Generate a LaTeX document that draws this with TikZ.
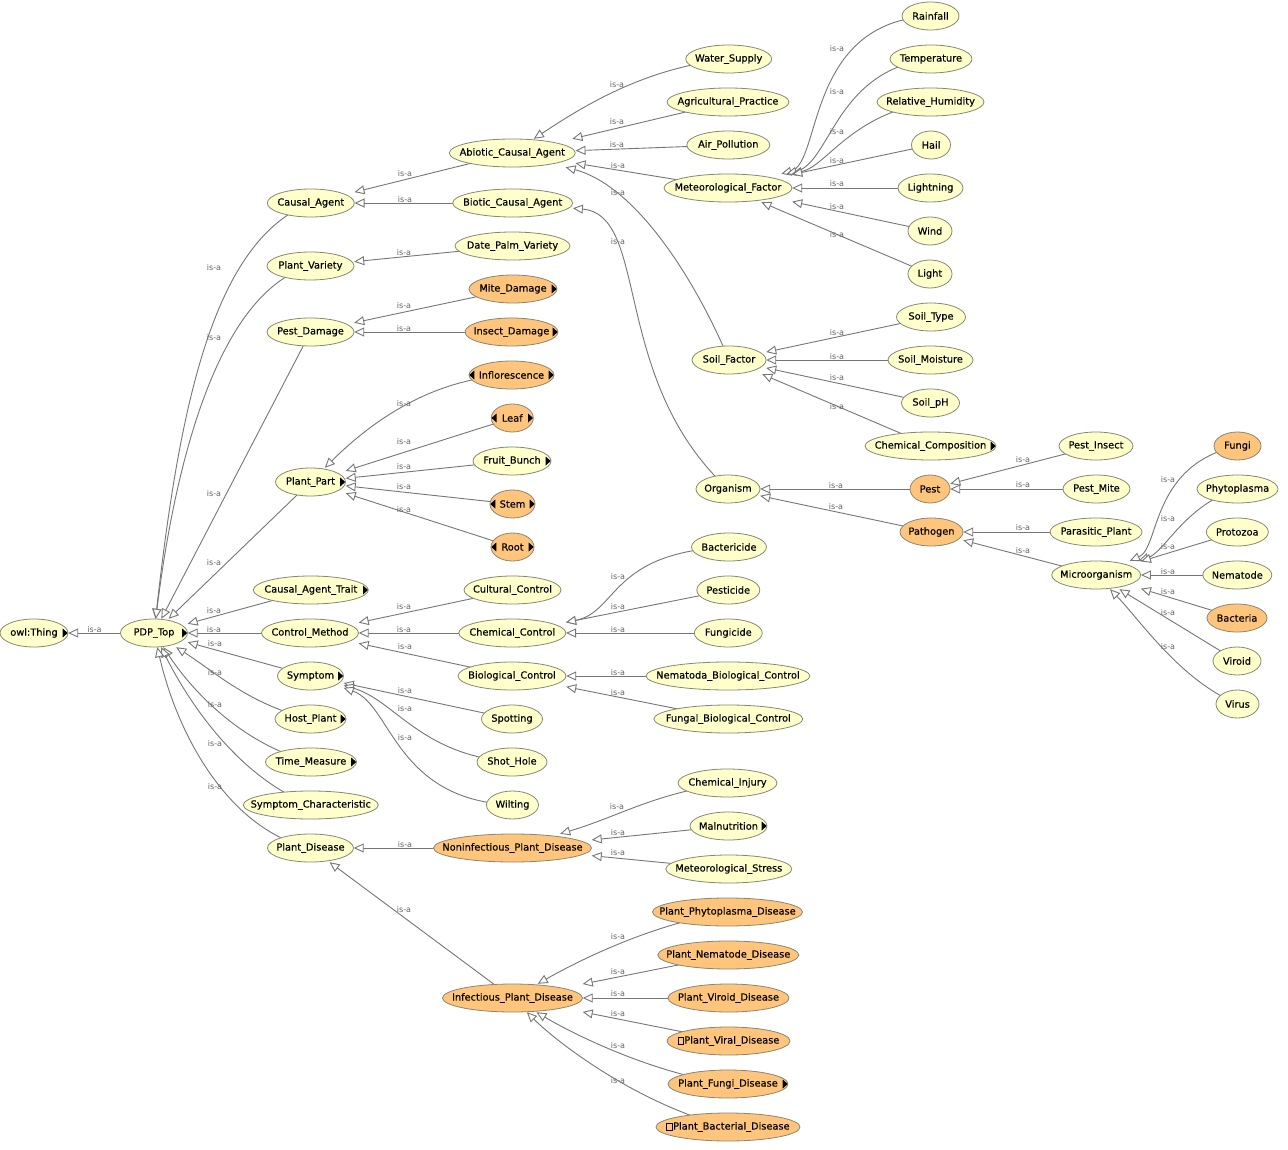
\documentclass[tikz,border=0pt]{standalone}
\usepackage{fontspec}
\setmainfont{DejaVu Sans}
\newfontfamily\clsfont{DejaVu Sans}[FakeBold=0.35]
\usetikzlibrary{arrows.meta}

\definecolor{clsyellow}{RGB}{255,255,204}
\definecolor{clsorange}{RGB}{255,197,125}
\definecolor{clsborder}{RGB}{135,135,115}
\definecolor{edgegray}{RGB}{118,118,118}
\definecolor{labelgray}{RGB}{100,100,100}

\pgfdeclarelayer{bg}
\pgfdeclarelayer{edges}
\pgfdeclarelayer{shapes}
\pgfsetlayers{bg,edges,shapes,main}

\tikzset{
  clsshape/.style={draw=clsborder, line width=0.8pt},
  clsbox/.style={rectangle, inner sep=0pt, minimum height=28pt, text=black,
                 font=\clsfont\fontsize{9.8}{11}\selectfont},
  isaedge/.style={draw=edgegray, line width=0.9pt,
                  -{Triangle[length=10pt,width=9pt,fill=white]}},
  isa/.style={inner sep=0pt, text=labelgray, font=\fontsize{8}{9}\selectfont},
  expander/.style={fill=black},
}

% class node: name, x, y, width, fill colour, label
\newcommand\classnode[6]{%
  \begin{pgfonlayer}{shapes}
    \filldraw[clsshape, fill=#5] (#2,#3) ellipse [x radius={#4*0.5pt}, y radius=14pt];
  \end{pgfonlayer}
  \node[clsbox, minimum width={#4*1pt}] (#1) at (#2,#3) {#6};
}
% expand markers at the right / left end of a class
\newcommand\expandR[1]{\fill[expander] ([xshift=-5.5pt,yshift=4.5pt]#1.east) -- ([xshift=-0.5pt]#1.east) -- ([xshift=-5.5pt,yshift=-4.5pt]#1.east) -- cycle;}
\newcommand\expandL[1]{\fill[expander] ([xshift=5.5pt,yshift=4.5pt]#1.west) -- ([xshift=0.5pt]#1.west) -- ([xshift=5.5pt,yshift=-4.5pt]#1.west) -- cycle;}
% placeholder glyph box
\newcommand\blankglyph{{\setlength\fboxsep{0pt}\setlength\fboxrule{0.6pt}\fbox{\rule{0pt}{6pt}\hspace{5pt}}}\kern0.5pt}

\begin{document}
\begin{tikzpicture}[x=1pt,y=-1pt]
\useasboundingbox (0,0) rectangle (1288,1150);
\begin{pgfonlayer}{bg}
  \fill[white] (0,0) rectangle (1288,1150);
\end{pgfonlayer}

% ---------- classes ----------
\classnode{oThing}{34}{633}{68}{clsyellow}{owl:Thing}
\classnode{PDP}{154}{633}{67}{clsyellow}{PDP\_Top}

\classnode{CA}{310.8}{203}{87}{clsyellow}{Causal\_Agent}
\classnode{PV}{310.5}{266}{87}{clsyellow}{Plant\_Variety}
\classnode{PD}{310.5}{332}{87}{clsyellow}{Pest\_Damage}
\classnode{PP}{310.5}{482}{70}{clsyellow}{Plant\_Part}
\classnode{CAT}{310.8}{590}{115}{clsyellow}{Causal\_Agent\_Trait}
\classnode{CM}{310}{633}{97}{clsyellow}{Control\_Method}
\classnode{Sym}{310.5}{676}{66}{clsyellow}{Symptom}
\classnode{HP}{310.5}{719}{71}{clsyellow}{Host\_Plant}
\classnode{TM}{311}{762}{91}{clsyellow}{Time\_Measure}
\classnode{SC}{310.8}{805}{135}{clsyellow}{Symptom\_Characteristic}
\classnode{PDis}{310.5}{848}{86}{clsyellow}{Plant\_Disease}

\classnode{Abiotic}{512.3}{153}{126}{clsyellow}{Abiotic\_Causal\_Agent}
\classnode{Biotic}{512.7}{203}{120}{clsyellow}{Biotic\_Causal\_Agent}
\classnode{DatePalm}{512.5}{246}{115}{clsyellow}{Date\_Palm\_Variety}
\classnode{Mite}{513}{289}{88}{clsorange}{Mite\_Damage}
\classnode{Insect}{511.5}{332}{93}{clsorange}{Insect\_Damage}
\classnode{Infl}{511.5}{375}{85}{clsorange}{Inflorescence}
\classnode{Leaf}{512.3}{418}{42}{clsorange}{Leaf}
\classnode{Fruit}{512}{461}{78}{clsyellow}{Fruit\_Bunch}
\classnode{Stem}{512.5}{504}{45}{clsorange}{Stem}
\classnode{Root}{512.5}{547}{43}{clsorange}{Root}
\classnode{Cultural}{512.5}{590}{97}{clsyellow}{Cultural\_Control}
\classnode{ChemCtrl}{512.3}{633}{107}{clsyellow}{Chemical\_Control}
\classnode{BioCtrl}{512}{676}{108}{clsyellow}{Biological\_Control}
\classnode{Spotting}{512}{719}{61}{clsyellow}{Spotting}
\classnode{ShotHole}{512}{762}{70}{clsyellow}{Shot\_Hole}
\classnode{Wilting}{512.5}{805}{52}{clsyellow}{Wilting}
\classnode{Noninf}{512.5}{848}{158}{clsorange}{Noninfectious\_Plant\_Disease}
\classnode{Infect}{512.5}{998}{140}{clsorange}{Infectious\_Plant\_Disease}

\classnode{Water}{728.7}{59}{86}{clsyellow}{Water\_Supply}
\classnode{Agri}{728}{102}{122}{clsyellow}{Agricultural\_Practice}
\classnode{Air}{728.3}{145}{83}{clsyellow}{Air\_Pollution}
\classnode{Met}{728}{188}{128}{clsyellow}{Meteorological\_Factor}
\classnode{SoilF}{729}{360}{74}{clsyellow}{Soil\_Factor}
\classnode{Org}{728}{489}{64}{clsyellow}{Organism}
\classnode{Bactericide}{729}{547}{75}{clsyellow}{Bactericide}
\classnode{Pesticide}{728.3}{590}{63}{clsyellow}{Pesticide}
\classnode{Fungicide}{728.3}{633}{68}{clsyellow}{Fungicide}
\classnode{Nematoda}{728}{676}{164}{clsyellow}{Nematoda\_Biological\_Control}
\classnode{Fungal}{728.3}{719}{149}{clsyellow}{Fungal\_Biological\_Control}
\classnode{ChemInj}{727.5}{783}{99}{clsyellow}{Chemical\_Injury}
\classnode{Maln}{728.5}{826}{77}{clsyellow}{Malnutrition}
\classnode{MetStress}{728.8}{869}{126}{clsyellow}{Meteorological\_Stress}
\classnode{PhytoD}{727.5}{912}{150}{clsorange}{Plant\_Phytoplasma\_Disease}
\classnode{NemD}{728.3}{955}{141}{clsorange}{Plant\_Nematode\_Disease}
\classnode{ViroidD}{728.5}{998}{121}{clsorange}{Plant\_Viroid\_Disease}
\classnode{ViralD}{728.5}{1041}{123}{clsorange}{\blankglyph Plant\_Viral\_Disease}
\classnode{FungiD}{728}{1084}{120}{clsorange}{Plant\_Fungi\_Disease}
\classnode{BactD}{728}{1127}{144}{clsorange}{\blankglyph Plant\_Bacterial\_Disease}

\classnode{Rainfall}{930.5}{16}{57}{clsyellow}{Rainfall}
\classnode{Temp}{931}{59}{82}{clsyellow}{Temperature}
\classnode{RH}{930.5}{102}{107}{clsyellow}{Relative\_Humidity}
\classnode{Hail}{931}{145}{39}{clsyellow}{Hail}
\classnode{Lightning}{930.5}{188}{65}{clsyellow}{Lightning}
\classnode{Wind}{930}{231}{44}{clsyellow}{Wind}
\classnode{Light}{930}{274}{44}{clsyellow}{Light}
\classnode{SoilType}{931}{317}{69}{clsyellow}{Soil\_Type}
\classnode{Moist}{930.5}{360}{85}{clsyellow}{Soil\_Moisture}
\classnode{SoilpH}{930.5}{403}{58}{clsyellow}{Soil\_pH}
\classnode{ChemComp}{930.5}{446}{131}{clsyellow}{Chemical\_Composition}
\classnode{Pest}{930}{489}{40}{clsorange}{Pest}
\classnode{Pathogen}{931.5}{532}{63}{clsorange}{Pathogen}

\classnode{PestInsect}{1096}{446}{74}{clsyellow}{Pest\_Insect}
\classnode{PestMite}{1096.5}{489}{67}{clsyellow}{Pest\_Mite}
\classnode{Parasitic}{1096}{532}{92}{clsyellow}{Parasitic\_Plant}
\classnode{Micro}{1096.2}{575}{89}{clsyellow}{Microorganism}

\classnode{Fungi}{1237.5}{446}{47}{clsorange}{Fungi}
\classnode{Phytoplasma}{1237.5}{489}{81}{clsyellow}{Phytoplasma}
\classnode{Protozoa}{1237.3}{532}{62}{clsyellow}{Protozoa}
\classnode{Nematode}{1237.3}{575}{69}{clsyellow}{Nematode}
\classnode{Bacteria}{1237}{618}{60}{clsorange}{Bacteria}
\classnode{Viroid}{1237}{661}{48}{clsyellow}{Viroid}
\classnode{Virus}{1237.5}{704}{43}{clsyellow}{Virus}

% ---------- expand markers ----------
\foreach \n in {oThing,PDP,Mite,Insect,Infl,Leaf,Fruit,Stem,Root,PP,ChemComp,CAT,Sym,HP,TM,Maln,FungiD}
  {\expandR{\n}}
\foreach \n in {Infl,Leaf,Stem,Root}
  {\expandL{\n}}

% ---------- is-a connectors ----------
\begin{pgfonlayer}{edges}
\draw[isaedge] (PDP.center) -- (oThing);

\draw[isaedge] (CA.center) .. controls (215,240) and (180,400) .. (PDP);
\draw[isaedge] (PV.center) .. controls (225,290) and (178,440) .. (PDP);
\draw[isaedge] (PD.center) -- (PDP);
\draw[isaedge] (PP.center) -- (PDP);
\draw[isaedge] (CAT.center) -- (PDP);
\draw[isaedge] (CM.center) -- (PDP);
\draw[isaedge] (Sym.center) -- (PDP);
\draw[isaedge] (HP.center) .. controls (250,705) and (215,672) .. (PDP);
\draw[isaedge] (TM.center) .. controls (245,745) and (195,695) .. (PDP);
\draw[isaedge] (SC.center) .. controls (240,778) and (190,705) .. (PDP);
\draw[isaedge] (PDis.center) .. controls (235,832) and (180,745) .. (PDP);

\draw[isaedge] (Abiotic.center) -- (CA);
\draw[isaedge] (Biotic.center) -- (CA);
\draw[isaedge] (DatePalm.center) -- (PV);
\draw[isaedge] (Mite.center) -- (PD);
\draw[isaedge] (Insect.center) -- (PD);
\draw[isaedge] (Infl.center) .. controls (435,378) and (375,418) .. (PP);
\draw[isaedge] (Leaf.center) -- (PP);
\draw[isaedge] (Fruit.center) -- (PP);
\draw[isaedge] (Stem.center) -- (PP);
\draw[isaedge] (Root.center) -- (PP);
\draw[isaedge] (Cultural.center) -- (CM);
\draw[isaedge] (ChemCtrl.center) -- (CM);
\draw[isaedge] (BioCtrl.center) -- (CM);
\draw[isaedge] (Spotting.center) -- (Sym);
\draw[isaedge] (ShotHole.center) .. controls (420,755) and (395,700) .. (Sym);
\draw[isaedge] (Wilting.center) .. controls (395,800) and (392,705) .. (Sym);
\draw[isaedge] (Noninf.center) -- (PDis);
\draw[isaedge] (Infect.center) -- (PDis);

\draw[isaedge] (Water.center) .. controls (645,68) and (585,105) .. (Abiotic);
\draw[isaedge] (Agri.center) -- (Abiotic);
\draw[isaedge] (Air.center) -- (Abiotic);
\draw[isaedge] (Met.center) -- (Abiotic);
\draw[isaedge] (SoilF.center) .. controls (700,290) and (640,187) .. (Abiotic);
\draw[isaedge] (Org.center) .. controls (610,380) and (650,215) .. (Biotic);

\draw[isaedge] (Bactericide.center) .. controls (610,552) and (618,612) .. (ChemCtrl);
\draw[isaedge] (Pesticide.center) -- (ChemCtrl);
\draw[isaedge] (Fungicide.center) -- (ChemCtrl);
\draw[isaedge] (Nematoda.center) -- (BioCtrl);
\draw[isaedge] (Fungal.center) -- (BioCtrl);
\draw[isaedge] (ChemInj.center) .. controls (650,795) and (620,816) .. (Noninf);
\draw[isaedge] (Maln.center) -- (Noninf);
\draw[isaedge] (MetStress.center) -- (Noninf);
\draw[isaedge] (PhytoD.center) .. controls (650,925) and (580,960) .. (Infect);
\draw[isaedge] (NemD.center) -- (Infect);
\draw[isaedge] (ViroidD.center) -- (Infect);
\draw[isaedge] (ViralD.center) -- (Infect);
\draw[isaedge] (FungiD.center) .. controls (650,1072) and (575,1035) .. (Infect);
\draw[isaedge] (BactD.center) .. controls (640,1105) and (560,1045) .. (Infect);

\draw[isaedge] (Rainfall.center) .. controls (805,22) and (822,163) .. (Met);
\draw[isaedge] (Temp.center) .. controls (835,70) and (831,163) .. (Met);
\draw[isaedge] (RH.center) .. controls (850,115) and (827,166) .. (Met);
\draw[isaedge] (Hail.center) -- (Met);
\draw[isaedge] (Lightning.center) -- (Met);
\draw[isaedge] (Wind.center) -- (Met);
\draw[isaedge] (Light.center) -- (Met);

\draw[isaedge] (SoilType.center) -- (SoilF);
\draw[isaedge] (Moist.center) -- (SoilF);
\draw[isaedge] (SoilpH.center) -- (SoilF);
\draw[isaedge] (ChemComp.center) -- (SoilF);
\draw[isaedge] (Pest.center) -- (Org);
\draw[isaedge] (Pathogen.center) -- (Org);
\draw[isaedge] (PestInsect.center) -- (Pest);
\draw[isaedge] (PestMite.center) -- (Pest);
\draw[isaedge] (Parasitic.center) -- (Pathogen);
\draw[isaedge] (Micro.center) -- (Pathogen);

\draw[isaedge] (Fungi.center) .. controls (1150,465) and (1160,548) .. (Micro);
\draw[isaedge] (Phytoplasma.center) .. controls (1185,505) and (1165,552) .. (Micro);
\draw[isaedge] (Protozoa.center) -- (Micro);
\draw[isaedge] (Nematode.center) -- (Micro);
\draw[isaedge] (Bacteria.center) -- (Micro);
\draw[isaedge] (Viroid.center) -- (Micro);
\draw[isaedge] (Virus.center) .. controls (1180,680) and (1140,620) .. (Micro);
\end{pgfonlayer}

% ---------- is-a labels ----------
\foreach \x/\y [count=\i] in {
  94.5/630,
  214/268, 214/338, 214/494, 214/563, 214/611, 214/630, 215/644, 215/673, 215/705, 215/744, 215/787,
  405/174, 405/200, 404/253, 404/306, 404/329, 404/404, 404/442, 404/467, 404/487, 404/510,
  404/607, 404/630, 405/647, 405/691, 405/709, 405/738, 405/845, 404/910,
  617/85, 617/122, 617/145, 618/166, 618/193, 618/242, 618/577, 618/607, 618/630, 618/673,
  618/693, 617/807, 618/833, 618/853, 618/937, 618/972, 618/994, 618/1014, 618/1046, 618/1081,
  837/49, 837/92, 837/132, 837/161, 837/184, 837/207, 837/235, 837/333, 837/357, 837/378,
  837/407, 836/486, 836/507,
  1023/460, 1023/485, 1023/528, 1023/551,
  1168/480, 1168/519, 1168/547, 1168/572, 1168/592, 1168/613, 1168/647}
  {\node[isa] (isa\i) at (\x,\y) {is-a};}

\end{tikzpicture}
\end{document}
